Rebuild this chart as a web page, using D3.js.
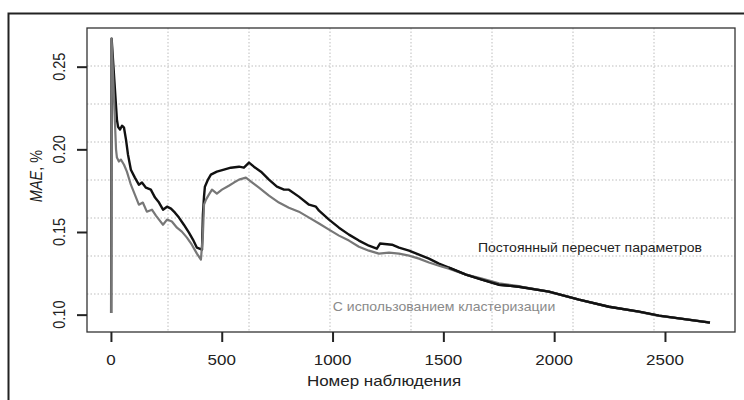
<!DOCTYPE html>
<html>
<head>
<meta charset="utf-8">
<script src="https://cdn.jsdelivr.net/npm/d3@7"></script>
<style>
  body { margin: 0; background: #fff; }
  text { font-family: "Liberation Sans", Arial, sans-serif; }
</style>
</head>
<body>
<div id="chart"></div>
<script>
var width = 744;
var height = 400;

// observation number / MAE for constant re-estimation of parameters
var constX = [1, 3, 27, 32, 41, 50, 59, 68, 77, 90, 108, 126, 140, 158, 180, 199, 217, 235, 253, 271, 289, 307, 329, 352, 370, 388, 411,
              415, 420, 424, 438, 451, 478, 510, 541, 578, 600, 623, 645, 677, 713, 749, 781, 803, 848, 894, 925, 939, 984, 1029, 1074,
              1119, 1164, 1200, 1214, 1268, 1300, 1345, 1390, 1435, 1480, 1525, 1602, 1674, 1751, 1841, 1976, 2112, 2247, 2383, 2473, 2703];
var constY = [0.101, 0.267, 0.218, 0.2137, 0.212, 0.2143, 0.2131, 0.2059, 0.1968, 0.1877, 0.1829, 0.1786, 0.1799, 0.1768, 0.1756, 0.1708, 0.1678, 0.1635, 0.1653, 0.1641, 0.1617, 0.1587, 0.1544, 0.1496, 0.1454, 0.1405, 0.1393,
              0.1605, 0.1714, 0.1774, 0.1817, 0.1847, 0.1865, 0.1877, 0.1889, 0.1895, 0.1889, 0.1920, 0.1895, 0.1865, 0.1817, 0.1774, 0.1756, 0.1756, 0.1714, 0.1665, 0.1653, 0.1629, 0.1575, 0.1526, 0.1484,
              0.1448, 0.1417, 0.1399, 0.1430, 0.1423, 0.1405, 0.1387, 0.1363, 0.1339, 0.1309, 0.1284, 0.1242, 0.1212, 0.1181, 0.1169, 0.1139, 0.1091, 0.1048, 0.1018, 0.0994, 0.0952];

// observation number / MAE with clustering
var clustX = [1, 3, 23, 27, 36, 45, 59, 72, 90, 108, 126, 144, 162, 185, 203, 217, 235, 253, 275, 298, 320, 343, 365, 388, 406,
              415, 420, 429, 442, 456, 478, 501, 532, 555, 578, 609, 632, 668, 713, 758, 803, 848, 894, 939, 984, 1029, 1074,
              1119, 1164, 1209, 1255, 1300, 1345, 1390, 1435, 1480, 1525, 1602, 1674, 1751, 1841, 1976, 2112, 2247, 2383, 2473, 2703];
var clustY = [0.101, 0.267, 0.200, 0.195, 0.1926, 0.1938, 0.1907, 0.1865, 0.1786, 0.1726, 0.1665, 0.1678, 0.1623, 0.1635, 0.1599, 0.1575, 0.1544, 0.1575, 0.1563, 0.1526, 0.1502, 0.1466, 0.1423, 0.1369, 0.1333,
              0.1484, 0.1665, 0.1696, 0.1726, 0.1756, 0.1732, 0.1756, 0.1780, 0.1799, 0.1817, 0.1829, 0.1805, 0.1768, 0.1720, 0.1678, 0.1647, 0.1623, 0.1587, 0.1551, 0.1514, 0.1478, 0.1448,
              0.1411, 0.1387, 0.1369, 0.1375, 0.1369, 0.1357, 0.1339, 0.1315, 0.1296, 0.1278, 0.1242, 0.1218, 0.1190, 0.1172, 0.1139, 0.1091, 0.1048, 0.1016, 0.0993, 0.0953];

var xTicks = [0, 500, 1000, 1500, 2000, 2500];
var yTicks = [0.10, 0.15, 0.20, 0.25];
var xLabel = "Номер наблюдения";
var yLabelItalic = "MAE";
var yLabelRest = ", %";
var constLabel = "Постоянный пересчет параметров";
var clustLabel = "С использованием кластеризации";

var plot = {left: 87, top: 28, right: 735, bottom: 332};
var stretch = 1.17; // text in the picture is a little wider than tall

var svg = d3.select("#chart")
        .append("svg")
        .attr("width", width)
        .attr("height", height);

// outer frame, runs off the right and bottom of the picture
svg.append("rect")
    .attr("x", 8.5)
    .attr("y", 13.5)
    .attr("width", 760)
    .attr("height", 420)
    .attr("fill", "none")
    .attr("stroke", "#222")
    .attr("stroke-width", 2);

var x = d3.scaleLinear().domain([-108, 2816]).range([plot.left, plot.right]);
var y = d3.scaleLinear().domain([0.0895, 0.2734]).range([plot.bottom, plot.top]);

// grid: 8 equal cells each way
var gx = d3.range(1, 8).map(function(i){ return plot.left + (plot.right - plot.left) * i / 8; });
var gy = d3.range(1, 8).map(function(i){ return plot.top + (plot.bottom - plot.top) * i / 8; });

svg.selectAll(".gridx")
    .data(gx)
    .enter().append("line")
    .attr("x1", function(d){ return d; })
    .attr("x2", function(d){ return d; })
    .attr("y1", plot.top)
    .attr("y2", plot.bottom)
    .attr("stroke", "#bdbdbd")
    .attr("stroke-dasharray", "1.5,2");

svg.selectAll(".gridy")
    .data(gy)
    .enter().append("line")
    .attr("x1", plot.left)
    .attr("x2", plot.right)
    .attr("y1", function(d){ return d; })
    .attr("y2", function(d){ return d; })
    .attr("stroke", "#bdbdbd")
    .attr("stroke-dasharray", "1.5,2");

// series
var line = d3.line()
    .x(function(d){ return x(d[0]); })
    .y(function(d){ return y(d[1]); });

var clust = d3.zip(clustX, clustY);
var cons = d3.zip(constX, constY);

svg.append("path")
    .datum(cons)
    .attr("d", line)
    .attr("fill", "none")
    .attr("stroke", "#111")
    .attr("stroke-width", 2.4)
    .attr("stroke-linejoin", "round");

svg.append("path")
    .datum(clust)
    .attr("d", line)
    .attr("fill", "none")
    .attr("stroke", "#777")
    .attr("stroke-width", 2.2)
    .attr("stroke-linejoin", "round");

// redraw the tail of the black line on top, where the two meet
svg.append("path")
    .datum(cons.filter(function(d){ return d[0] >= 1525; }))
    .attr("d", line)
    .attr("fill", "none")
    .attr("stroke", "#111")
    .attr("stroke-width", 2.4);

// plot box
svg.append("rect")
    .attr("x", plot.left)
    .attr("y", plot.top)
    .attr("width", plot.right - plot.left)
    .attr("height", plot.bottom - plot.top)
    .attr("fill", "none")
    .attr("stroke", "#333")
    .attr("stroke-width", 1.3);

// axes
var xAxis = svg.append("g")
    .attr("transform", "translate(0," + plot.bottom + ")")
    .call(d3.axisBottom(x).tickValues(xTicks).tickSize(10).tickFormat(d3.format("d")));

var yAxis = svg.append("g")
    .attr("transform", "translate(" + plot.left + ",0)")
    .call(d3.axisLeft(y).tickValues(yTicks).tickSize(10).tickFormat(d3.format(".2f")));

[xAxis, yAxis].forEach(function(a){
    a.select(".domain").remove();
    a.selectAll(".tick line").attr("stroke", "#222").attr("stroke-width", 2);
    a.selectAll(".tick text").remove();
});

svg.selectAll(".xlab")
    .data(xTicks)
    .enter().append("text")
    .attr("transform", function(d){ return "translate(" + x(d) + ",365) scale(" + stretch + ",1)"; })
    .attr("text-anchor", "middle")
    .attr("font-size", 14.5)
    .attr("fill", "#222")
    .text(function(d){ return d3.format("d")(d); });

svg.selectAll(".ylab")
    .data(yTicks)
    .enter().append("text")
    .attr("transform", function(d){ return "translate(65," + y(d) + ") scale(" + stretch + ",1) rotate(-90)"; })
    .attr("text-anchor", "middle")
    .attr("font-size", 14.5)
    .attr("fill", "#222")
    .text(function(d){ return d3.format(".2f")(d); });

svg.append("text")
    .attr("transform", "translate(384,386) scale(" + stretch + ",1)")
    .attr("text-anchor", "middle")
    .attr("font-size", 14.5)
    .attr("fill", "#222")
    .text(xLabel);

var yt = svg.append("text")
    .attr("transform", "translate(42,176) scale(" + stretch + ",1) rotate(-90)")
    .attr("text-anchor", "middle")
    .attr("font-size", 14.5)
    .attr("fill", "#222");
yt.append("tspan").attr("font-style", "italic").text(yLabelItalic);
yt.append("tspan").text(yLabelRest);

// in-plot labels
svg.append("text")
    .attr("transform", "translate(590,252) scale(" + stretch + ",1)")
    .attr("text-anchor", "middle")
    .attr("font-size", 12)
    .attr("fill", "#222")
    .text(constLabel);

svg.append("text")
    .attr("transform", "translate(444,311) scale(" + stretch + ",1)")
    .attr("text-anchor", "middle")
    .attr("font-size", 12)
    .attr("fill", "#8a8a8a")
    .text(clustLabel);
</script>
</body>
</html>
